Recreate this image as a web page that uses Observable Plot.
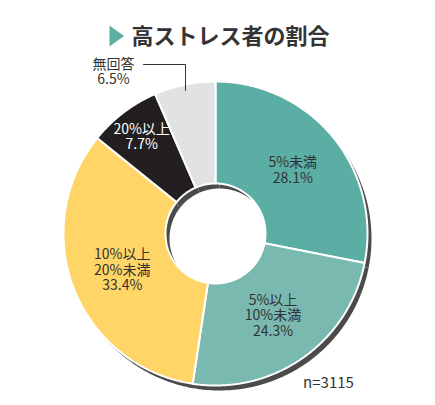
<!DOCTYPE html>
<html><head><meta charset="utf-8">
<script src="https://cdn.jsdelivr.net/npm/d3@7"></script>
<script src="https://cdn.jsdelivr.net/npm/@observablehq/plot@0.6"></script>
<style>body{margin:0;background:#fff}</style>
</head><body><div id="chart"></div>
<script>
const categories = ["5%未満", "5%以上\n10%未満", "10%以上\n20%未満", "20%以上", "無回答"];
const values = [28.1, 24.3, 33.4, 7.7, 6.5];
const colors = ["#5aaea4", "#79b9b0", "#ffd567", "#231f20", "#e1e2e4"];
const labelColors = ["#333333", "#333333", "#333333", "#ffffff", "#333333"];
const labelRadius = [100, 100, 100, 122, null];
const title = "高ストレス者の割合";
const note = "n=3115";

const W = 435, H = 405;
const cx = 215, cy = 233, R = 152, r = 50;
const font = "'Noto Sans CJK JP', 'Noto Sans', sans-serif";

const total = d3.sum(values);
let cum = 0;
const slices = values.map((v, i) => {
  const a0 = cum / total * 2 * Math.PI;
  cum += v;
  const a1 = cum / total * 2 * Math.PI;
  return {name: categories[i], value: v, a0, a1, i};
});

const pts = [];
for (const s of slices) {
  const n = Math.max(8, Math.ceil((s.a1 - s.a0) / (Math.PI / 360)));
  const ring = [];
  for (let k = 0; k <= n; k++) {
    const a = s.a0 + (s.a1 - s.a0) * k / n;
    ring.push([cx + R * Math.sin(a), cy - R * Math.cos(a)]);
  }
  for (let k = n; k >= 0; k--) {
    const a = s.a0 + (s.a1 - s.a0) * k / n;
    ring.push([cx + r * Math.sin(a), cy - r * Math.cos(a)]);
  }
  ring.push(ring[0]);
  for (const p of ring) pts.push({name: s.name, x: p[0], y: p[1]});
}

const labels = slices.filter(s => labelRadius[s.i] != null).map(s => {
  const m = (s.a0 + s.a1) / 2, rr = labelRadius[s.i];
  return {x: cx + rr * Math.sin(m), y: cy - rr * Math.cos(m),
          text: s.name + "\n" + s.value.toFixed(1) + "%", color: labelColors[s.i]};
});
const last = slices[4];
const outside = [{x: 113, y: 71, text: last.name + "\n" + last.value.toFixed(1) + "%"}];
const leader = [{x: 143, y: 64}, {x: 185, y: 64}, {x: 185, y: 90}];
const tri = [{x: 109, y: 25}, {x: 123.5, y: 35.5}, {x: 109, y: 46}, {x: 109, y: 25}];

const chart = Plot.plot({
  width: W, height: H,
  margin: 0,
  x: {domain: [0, W], range: [0, W], axis: null},
  y: {domain: [0, H], range: [0, H], axis: null},
  color: {domain: categories, range: colors},
  style: {fontFamily: font, background: "#fff"},
  marks: [
    Plot.line(pts, {x: "x", y: "y", z: "name", fill: "#4b4b4b", stroke: "none", dx: 4, dy: 5}),
    Plot.line(pts, {x: "x", y: "y", z: "name", fill: "name", stroke: "#ffffff", strokeWidth: 2, strokeLinejoin: "miter"}),
    Plot.text(labels, {x: "x", y: "y", text: "text", fill: "color", fontSize: 14, lineHeight: 1.12}),
    Plot.text(outside, {x: "x", y: "y", text: "text", fill: "#333333", fontSize: 14, lineHeight: 1.12}),
    Plot.line(leader, {x: "x", y: "y", stroke: "#333333", strokeWidth: 1}),
    Plot.line(tri, {x: "x", y: "y", fill: "#5aaea4", stroke: "none"}),
    Plot.text([title], {x: 230, y: 36, text: d => d, fontSize: 22, fontWeight: "bold", fill: "#333333"}),
    Plot.text([note], {x: 328, y: 383, text: d => d, fontSize: 15, fill: "#333333"})
  ]
});
document.getElementById("chart").appendChild(chart);
</script></body></html>
